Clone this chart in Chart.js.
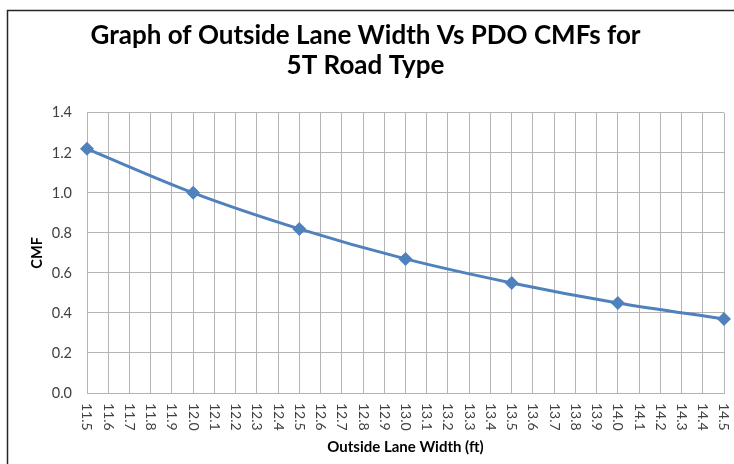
<!DOCTYPE html>
<html>
<head>
<meta charset="utf-8">
<script src="https://cdn.jsdelivr.net/npm/chart.js@4"></script>
<style>
  html, body { margin: 0; padding: 0; background: #fff; }
  #wrap { width: 734px; height: 464px; position: relative; }
</style>
</head>
<body>
<div id="wrap"><canvas id="c" width="734" height="464"></canvas></div>
<script>
const titleLines = ['Graph of Outside Lane Width Vs PDO CMFs for', '5T Road Type'];
const xAxisTitle = 'Outside Lane Width (ft)';
const yAxisTitle = 'CMF';
const laneWidths = [11.5, 12.0, 12.5, 13.0, 13.5, 14.0, 14.5];
const cmfValues = [1.22, 1.00, 0.82, 0.67, 0.55, 0.45, 0.37];
const xTickLabels = ['11.5','11.6','11.7','11.8','11.9','12.0','12.1','12.2','12.3','12.4',
  '12.5','12.6','12.7','12.8','12.9','13.0','13.1','13.2','13.3','13.4',
  '13.5','13.6','13.7','13.8','13.9','14.0','14.1','14.2','14.3','14.4','14.5'];
const yTickLabels = ['0.0','0.2','0.4','0.6','0.8','1.0','1.2','1.4'];

const FONT = 'Lato, "Open Sans", sans-serif';
const gridColor = '#b4b4b4';

const framePlugin = {
  id: 'frame',
  beforeDraw(chart) {
    const ctx = chart.ctx;
    ctx.save();
    ctx.fillStyle = '#fff';
    ctx.fillRect(0, 0, chart.width, chart.height);
    ctx.strokeStyle = '#262626';
    ctx.lineWidth = 1.5;
    ctx.strokeRect(7.5, 10.5, 900, 900);
    ctx.restore();
  },
  afterDraw(chart) {
    const s = chart.scales.x;
    const ctx = chart.ctx;
    ctx.save();
    ctx.fillStyle = '#404040';
    ctx.font = '14px ' + FONT;
    ctx.textAlign = 'left';
    ctx.textBaseline = 'middle';
    s.ticks.forEach((t, i) => {
      const x = s.getPixelForValue(t.value);
      ctx.save();
      ctx.translate(x, s.top + 10);
      ctx.rotate(Math.PI / 2);
      ctx.fillText(xTickLabels[i], 0, 0);
      ctx.restore();
    });
    ctx.restore();
  }
};

new Chart(document.getElementById('c'), {
  type: 'line',
  data: {
    datasets: [{
      label: 'CMF',
      data: laneWidths.map((x, i) => ({ x: x, y: cmfValues[i] })),
      borderColor: '#4f81bd',
      backgroundColor: '#4f81bd',
      borderWidth: 3,
      pointStyle: 'rectRot',
      pointRadius: 7,
      pointHoverRadius: 7,
      pointBorderWidth: 0,
      cubicInterpolationMode: 'monotone',
      fill: false,
      clip: false
    }]
  },
  options: {
    responsive: false,
    animation: false,
    devicePixelRatio: 1,
    layout: { padding: { left: 7, right: 10, top: 10, bottom: 0 } },
    plugins: {
      legend: { display: false },
      tooltip: { enabled: false },
      title: {
        display: true,
        text: titleLines,
        color: '#000',
        font: { family: FONT, size: 26, weight: 'bold', lineHeight: 1.15 },
        padding: { top: 11, bottom: 32 }
      }
    },
    scales: {
      x: {
        type: 'linear',
        min: 11.5,
        max: 14.5,
        afterBuildTicks(scale) {
          scale.ticks = xTickLabels.map(v => ({ value: parseFloat(v) }));
        },
        afterFit(scale) {
          scale.height = 71;
          scale.paddingLeft = 0;
          scale.paddingRight = 0;
        },
        ticks: {
          autoSkip: false,
          minRotation: 90,
          maxRotation: 90,
          color: 'rgba(0,0,0,0)',
          font: { family: FONT, size: 14 },
          callback: (v, i) => xTickLabels[i]
        },
        grid: { color: gridColor, drawTicks: false },
        border: { color: gridColor },
        title: {
          display: true,
          text: xAxisTitle,
          color: '#000',
          font: { family: FONT, size: 15, weight: 'bold' },
          padding: { top: 0, bottom: 8 }
        }
      },
      y: {
        min: 0,
        max: 1.4,
        afterBuildTicks(scale) {
          scale.ticks = yTickLabels.map(v => ({ value: parseFloat(v) }));
        },
        afterFit(scale) { scale.width = 80; },
        ticks: {
          color: '#404040',
          font: { family: FONT, size: 14.5 },
          padding: 15,
          callback: (v, i) => yTickLabels[i]
        },
        grid: { color: gridColor, drawTicks: false },
        border: { color: gridColor },
        title: {
          display: true,
          text: yAxisTitle,
          color: '#000',
          font: { family: FONT, size: 14.5, weight: 'bold' },
          padding: { top: 22, bottom: 0 }
        }
      }
    }
  },
  plugins: [framePlugin]
});
</script>
</body>
</html>
